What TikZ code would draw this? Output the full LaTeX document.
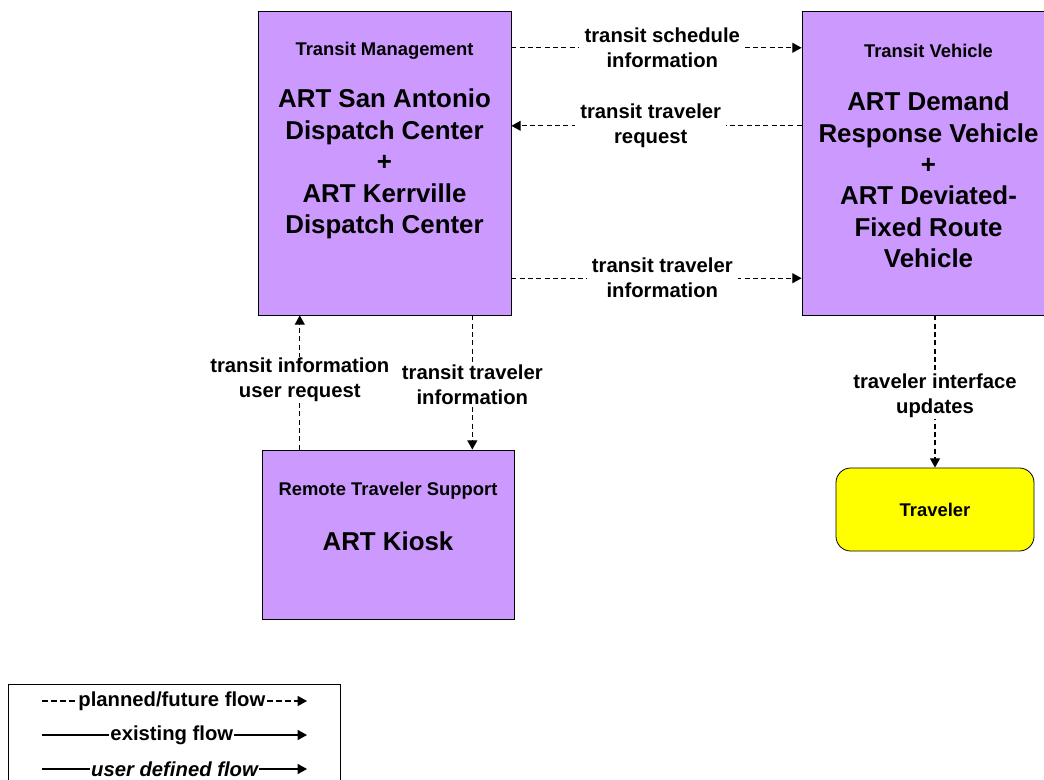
\documentclass[tikz,border=0pt]{standalone}
\usepackage{fontspec}
\setmainfont{Liberation Sans}
\usepackage{xcolor}
\usepackage{tikz}
\usetikzlibrary{arrows.meta, positioning, calc}
\definecolor{ArchPurple}{RGB}{204,153,255}
\definecolor{ArchYellow}{RGB}{255,255,0}

\begin{document}
\begin{tikzpicture}[
    x=0.75pt, y=-0.75pt,
    elem/.style={rectangle, draw=black, fill=ArchPurple, line width=0.6pt,
                 minimum width=189.75pt, minimum height=228pt, inner sep=0pt},
    hdr/.style={font=\fontsize{13.8}{16.5}\selectfont\bfseries, align=center},
    big/.style={font=\fontsize{19.4}{23.6}\selectfont\bfseries, align=center},
    flowlbl/.style={font=\fontsize{15.2}{18.75}\selectfont\bfseries, fill=white,
                    align=center, inner xsep=4pt, inner ysep=1pt},
    legtxt/.style={font=\fontsize{15.2}{18.75}\selectfont\bfseries, fill=white,
                   inner xsep=0.8pt, inner ysep=1pt},
    planned/.style={-{Triangle[length=7pt, width=7.5pt]}, line width=1pt,
                    dash pattern=on 3.75pt off 2.5pt},
    existing/.style={-{Triangle[length=7pt, width=7.5pt]}, line width=1pt}
]
\useasboundingbox (0,0) rectangle (1044,780);
\clip (0,0) rectangle (1044,780);

\node[elem] (tm)  at (384.5,163) {};
\node[elem] (veh) at (928.5,163) {};
\node[elem, minimum width=189pt, minimum height=126.75pt] (kiosk) at (388,534.5) {};
\node[rectangle, rounded corners=11pt, draw=black, fill=ArchYellow, line width=0.6pt,
      minimum width=148.5pt, minimum height=62.25pt, hdr] (traveler) at (935,509.5) {Traveler};

\node[hdr] (tmhdr)    at (384.5,51) {Transit Management};
\node[big] (tmname)   at (384.5,164) {ART San Antonio\\Dispatch Center\\+\\ART Kerrville\\Dispatch Center};
\node[hdr] (vehhdr)   at (928.5,51) {Transit Vehicle};
\node[big] (vehname)  at (928.5,180) {ART Demand\\Response Vehicle\\+\\ART Deviated-\\Fixed Route\\Vehicle};
\node[hdr] (kioskhdr) at (388,491) {Remote Traveler Support};
\node[big] (kioskname) at (388,541) {ART Kiosk};

% flows between the centers
\draw[planned] ($(tm.north east)!0.122!(tm.south east)$) -- node[flowlbl, pos=0.52]{transit schedule\\information}
               ($(veh.north west)!0.122!(veh.south west)$);
\draw[planned] ($(veh.north west)!0.378!(veh.south west)$) -- node[flowlbl, pos=0.52]{transit traveler\\request}
               ($(tm.north east)!0.378!(tm.south east)$);
\draw[planned] ($(tm.north east)!0.878!(tm.south east)$) -- node[flowlbl, pos=0.52]{transit traveler\\information}
               ($(veh.north west)!0.878!(veh.south west)$);

\coordinate (kreq)   at ($(kiosk.north west)!0.151!(kiosk.north east)$);
\coordinate (tminfo) at ($(tm.south west)!0.846!(tm.south east)$);
\draw[planned] (kreq) -- node[flowlbl, pos=0.52]{transit information\\user request} (kreq |- tm.south);
\draw[planned] (tminfo) -- node[flowlbl, pos=0.52]{transit traveler\\information} (tminfo |- kiosk.north);
\draw[planned] (traveler.north |- veh.south) -- node[flowlbl, pos=0.53]{traveler interface\\updates} (traveler.north);

% legend
\node[rectangle, draw=black, line width=0.6pt, minimum width=249pt, minimum height=90pt,
      anchor=north west] (legend) at (8,684) {};
\coordinate (lgA1) at (42,701);  \coordinate (lgA2) at (307,701);
\coordinate (lgB1) at (42,735);  \coordinate (lgB2) at (307,735);
\coordinate (lgC1) at (42,769);  \coordinate (lgC2) at (307,769);
\draw[planned, dash pattern=on 4.5pt off 2.25pt] (lgA1) -- node[legtxt, pos=0.49]{planned/future flow} (lgA2);
\draw[existing] (lgB1) -- node[legtxt, pos=0.49]{existing flow} (lgB2);
\draw[existing] (lgC1) -- node[legtxt, pos=0.5]{\itshape user defined flow} (lgC2);
\end{tikzpicture}
\end{document}
